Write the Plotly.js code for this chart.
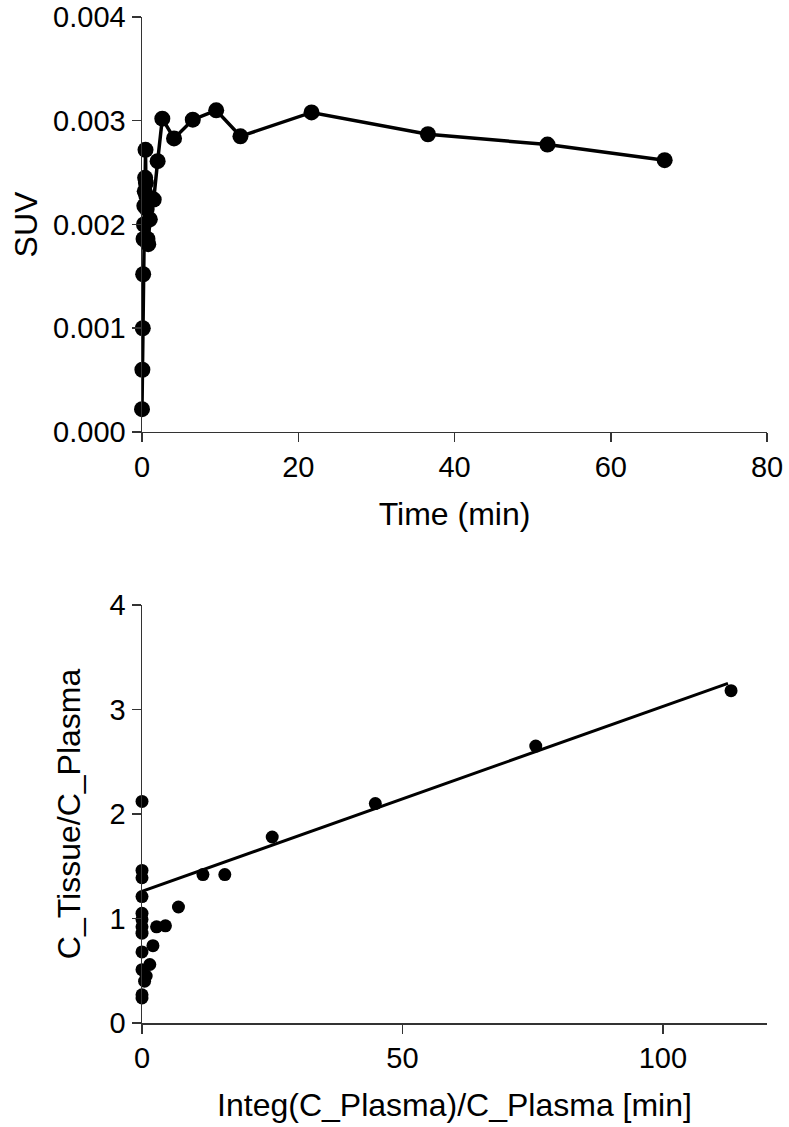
<!DOCTYPE html>
<html>
<head>
<meta charset="utf-8">
<script src="https://cdn.plot.ly/plotly-3.0.1.min.js"></script>
<style>
  html, body { margin: 0; padding: 0; background: #ffffff; }
  #chart { width: 789px; height: 1127px; }
</style>
</head>
<body>
<div id="chart"></div>
<script>
// ---- Top panel: SUV vs time ----
var timeMin = [0, 0.05, 0.1, 0.15, 0.2, 0.25, 0.3, 0.35, 0.4, 0.45, 0.5, 0.55, 0.6, 0.7, 0.8, 1.0, 1.5, 2.0, 2.6, 4.1, 6.5, 9.5, 12.6, 21.7, 36.6, 51.9, 66.9];
var suv = [0.00022, 0.0006, 0.001, 0.00152, 0.00186, 0.0020, 0.00218, 0.00232, 0.00245, 0.00272, 0.0024, 0.00228, 0.00215, 0.00186, 0.00181, 0.00205, 0.00224, 0.00261, 0.00302, 0.00283, 0.00301, 0.0031, 0.00285, 0.00308, 0.00287, 0.00277, 0.00262];
var suvTicks = [0, 0.001, 0.002, 0.003, 0.004];
var suvTickText = ["0.000", "0.001", "0.002", "0.003", "0.004"];
var timeTicks = [0, 20, 40, 60, 80];

// ---- Bottom panel: Logan-type plot ----
var integRatio = [0, 0, 0, 0, 0, 0, 0, 0, 0, 0, 0, 0, 0.5, 0.8, 1.5, 2.1, 2.8, 4.5, 7.0, 11.7, 15.9, 25.0, 44.8, 75.6, 113.1];
var tissueRatio = [0.24, 0.27, 0.51, 0.68, 0.86, 0.92, 0.99, 1.05, 1.21, 1.39, 1.46, 2.12, 0.40, 0.45, 0.56, 0.74, 0.92, 0.93, 1.11, 1.42, 1.42, 1.78, 2.10, 2.65, 3.18];
var fitX = [0, 112.5];
var fitY = [1.26, 3.25];
var ratioTicks = [0, 1, 2, 3, 4];
var integTicks = [0, 50, 100];

var FONT = "Liberation Sans, Arial, Helvetica, sans-serif";

var traces = [
  {
    x: timeMin, y: suv, xaxis: "x", yaxis: "y",
    type: "scatter", mode: "lines+markers", cliponaxis: false,
    line: {color: "#000000", width: 3.5},
    marker: {color: "#000000", size: 16},
    showlegend: false
  },
  {
    x: fitX, y: fitY, xaxis: "x2", yaxis: "y2",
    type: "scatter", mode: "lines", cliponaxis: false,
    line: {color: "#000000", width: 3},
    showlegend: false
  },
  {
    x: integRatio, y: tissueRatio, xaxis: "x2", yaxis: "y2",
    type: "scatter", mode: "markers", cliponaxis: false,
    marker: {color: "#000000", size: 13},
    showlegend: false
  }
];

function axisBase() {
  return {
    showgrid: false, zeroline: false, showline: true,
    linecolor: "#333333", linewidth: 1.5,
    ticks: "outside", ticklen: 9, tickwidth: 1.5, tickcolor: "#333333",
    tickfont: {family: FONT, size: 29, color: "#000000"},
    fixedrange: true
  };
}

var xa = Object.assign(axisBase(), {
  domain: [0, 1], anchor: "y", range: [0, 80],
  tickvals: timeTicks,
  title: {text: "Time (min)", font: {family: FONT, size: 32, color: "#000000"}, standoff: 20}
});
var ya = Object.assign(axisBase(), {
  domain: [0.5875, 1], anchor: "x", range: [0, 0.004],
  tickvals: suvTicks, ticktext: suvTickText,
  title: {text: "SUV", font: {family: FONT, size: 32, color: "#000000"}, standoff: 6}
});
var xa2 = Object.assign(axisBase(), {
  domain: [0, 1], anchor: "y2", range: [0, 120],
  tickvals: integTicks,
  title: {text: "Integ(C_Plasma)/C_Plasma [min]", font: {family: FONT, size: 32, color: "#000000"}, standoff: 20}
});
var ya2 = Object.assign(axisBase(), {
  domain: [0, 0.4155], anchor: "x2", range: [0, 4],
  tickvals: ratioTicks,
  title: {text: "C_Tissue/C_Plasma", font: {family: FONT, size: 32, color: "#000000"}, standoff: 19}
});

var layout = {
  width: 789, height: 1127,
  margin: {l: 142, r: 22, t: 17, b: 104},
  paper_bgcolor: "#ffffff", plot_bgcolor: "#ffffff",
  font: {family: FONT, color: "#000000"},
  showlegend: false,
  xaxis: xa, yaxis: ya, xaxis2: xa2, yaxis2: ya2
};

Plotly.newPlot("chart", traces, layout, {staticPlot: true, displayModeBar: false});
</script>
</body>
</html>
